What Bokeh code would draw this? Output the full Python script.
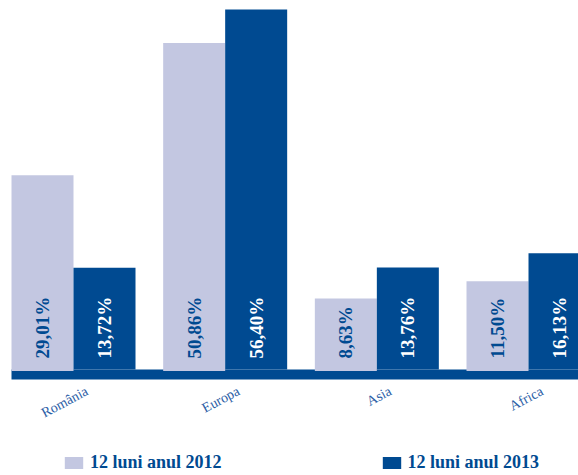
import math
from bokeh.plotting import figure
from bokeh.models import Range1d, Legend, LegendItem
from bokeh.core.properties import value
from bokeh.embed import file_html
from bokeh.resources import INLINE

# ---- data ----
categories = ["România", "Europa", "Asia", "Africa"]
series_names = ["12 luni anul 2012", "12 luni anul 2013"]
values_2012 = [29.01, 50.86, 8.63, 11.50]
values_2013 = [13.72, 56.40, 13.76, 16.13]


def fmt(v):
    return f"{v:.2f}".replace(".", ",") + "%"


labels_2012 = [fmt(v) for v in values_2012]
labels_2013 = [fmt(v) for v in values_2013]

# ---- style ----
LIGHT = "#c3c7e1"
DARK = "#004a91"
CAT_BLUE = "#2b5ea6"
FONT = "Liberation Serif"

W, H = 578, 475
PX_X = 151.67      # pixels per category group
PX_Y = 6.05        # pixels per value unit
BASE = -3.1        # bar base in value units
BASE_PX = 369      # pixel row of the bar base
x0 = -73 / PX_X
y_top = BASE + BASE_PX / PX_Y
y_bot = BASE - (H - BASE_PX) / PX_Y

bar_w = 62 / PX_X
idx = list(range(len(categories)))
x_2012 = [i - bar_w / 2 for i in idx]
x_2013 = [i + bar_w / 2 for i in idx]

p = figure(width=W, height=H,
           x_range=Range1d(x0, x0 + W / PX_X),
           y_range=Range1d(y_bot, y_top),
           output_backend="svg", toolbar_location=None,
           x_axis_location=None, y_axis_location=None,
           min_border=0)
p.grid.visible = False
p.outline_line_color = None

# baseline band
p.quad(left=[x_2012[0] - bar_w / 2], right=[len(categories) + 1],
       bottom=[BASE - 10 / PX_Y], top=[BASE],
       fill_color=DARK, line_color=None)

r1 = p.vbar(x=x_2012, top=values_2012, bottom=BASE - 1.5 / PX_Y, width=bar_w,
            fill_color=LIGHT, line_color=None)
r2 = p.vbar(x=x_2013, top=values_2013, bottom=BASE, width=bar_w,
            fill_color=DARK, line_color=None)

lab_y = BASE + 11 / PX_Y
p.text(x=x_2012, y=[lab_y] * len(idx), text=labels_2012, angle=math.pi / 2,
       text_align="left", text_baseline="middle",
       text_font=value(FONT), text_font_style="bold", text_font_size="19px",
       text_color=DARK)
p.text(x=x_2013, y=[lab_y] * len(idx), text=labels_2013, angle=math.pi / 2,
       text_align="left", text_baseline="middle",
       text_font=value(FONT), text_font_style="bold", text_font_size="19px",
       text_color="white")

# category labels
p.text(x=[i + 10 / PX_X for i in idx], y=[BASE - 14 / PX_Y] * len(idx),
       text=categories, angle=math.radians(28),
       text_align="right", text_baseline="top",
       text_font=value(FONT), text_font_size="14px", text_color=CAT_BLUE)

legend = Legend(items=[LegendItem(label=series_names[0], renderers=[r1]),
                       LegendItem(label=series_names[1], renderers=[r2])],
                orientation="horizontal", location=(62, 2),
                glyph_width=23, glyph_height=15, label_height=15,
                label_standoff=5, spacing=158, padding=0, margin=0,
                border_line_color=None, background_fill_alpha=0,
                label_text_font=FONT, label_text_font_style="bold",
                label_text_font_size="18px", label_text_color=DARK,
                label_text_baseline="middle")
p.add_layout(legend)

open("out.html", "w").write(file_html(p, INLINE))
